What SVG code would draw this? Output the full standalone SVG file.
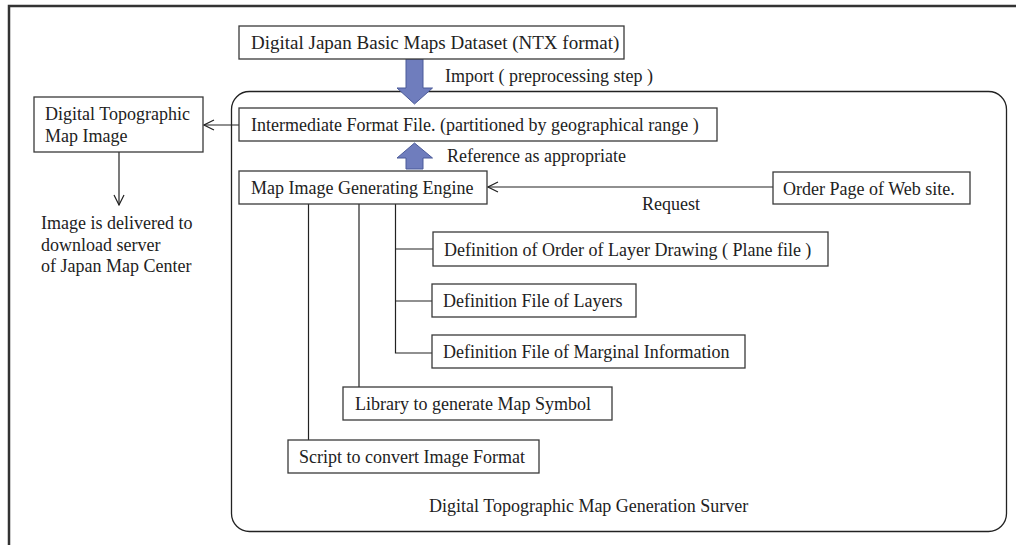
<svg xmlns="http://www.w3.org/2000/svg" width="1016" height="545" viewBox="0 0 1016 545">
<defs>
<style>
text{font-family:"Liberation Serif","Times New Roman",serif;font-size:18px;fill:#222}
.box{fill:#fff;stroke:#3a3a3a;stroke-width:1.3}
.ln{stroke:#222;stroke-width:1.2;fill:none}
.blk{fill:#6f7dbd;stroke:#4b5a99;stroke-width:1}
</style>
<marker id="open" viewBox="0 0 12 12" refX="11" refY="6" markerWidth="12" markerHeight="12" markerUnits="userSpaceOnUse" orient="auto">
<path d="M1,1 L11,6 L1,11" fill="none" stroke="#222" stroke-width="1.2"/>
</marker>
</defs>
<rect width="1016" height="545" fill="#fff"/>
<rect x="9" y="6" width="1030" height="570" fill="none" stroke="#333" stroke-width="2.5"/>
<g id="server">
<rect x="231.5" y="91.5" width="775" height="440" rx="18" ry="18" fill="none" stroke="#222" stroke-width="1.3"/>
<text x="429" y="512">Digital Topographic Map Generation Surver</text>
</g>
<g id="connectors">
<line class="ln" x1="239" y1="125" x2="204" y2="125" marker-end="url(#open)"/>
<line class="ln" x1="119" y1="152" x2="119" y2="205" marker-end="url(#open)" stroke="#444"/>
<line class="ln" x1="773" y1="187" x2="488" y2="187" marker-end="url(#open)"/>
<line class="ln" x1="308.5" y1="204" x2="308.5" y2="440"/>
<line class="ln" x1="359" y1="204" x2="359" y2="387" stroke-width="2"/>
<polyline class="ln" points="395.5,204 395.5,353 432,353" stroke="#555"/>
<line class="ln" x1="395.5" y1="249" x2="433" y2="249"/>
<line class="ln" x1="395.5" y1="301" x2="432" y2="301" stroke-width="2"/>
<polygon class="blk" points="406,59 423,59 423,88 432.5,88 414.5,104 397,88 406,88"/>
<polygon class="blk" points="414.5,143 432.5,158 423,158 423,169 406,169 406,158 397,158"/>
<text x="445" y="82">Import ( preprocessing step )</text>
<text x="447" y="162">Reference as appropriate</text>
<text x="642" y="210">Request</text>
</g>
<g id="dataset">
<rect class="box" x="239" y="26" width="385" height="33"/>
<text x="251" y="49" style="font-size:19px">Digital Japan Basic Maps Dataset (NTX format)</text>
</g>
<g id="intermediate">
<rect class="box" x="239" y="108" width="478" height="33"/>
<text x="251" y="131">Intermediate Format File. (partitioned by geographical range )</text>
</g>
<g id="topo-image">
<rect class="box" x="34" y="97" width="169" height="55"/>
<text x="45" y="120">Digital Topographic</text>
<text x="45" y="142">Map Image</text>
</g>
<g id="delivery">
<text x="41" y="229">Image is delivered to</text>
<text x="41" y="251">download server</text>
<text x="41" y="272">of Japan Map Center</text>
</g>
<g id="engine">
<rect class="box" x="239" y="171" width="248" height="33"/>
<text x="251" y="194">Map Image Generating Engine</text>
</g>
<g id="order-page">
<rect class="box" x="773" y="172" width="197" height="32"/>
<text x="783" y="194.5">Order Page of Web site.</text>
</g>
<g id="def-order">
<rect class="box" x="433" y="232" width="395" height="34"/>
<text x="444" y="255.5">Definition of Order of Layer Drawing ( Plane file )</text>
</g>
<g id="def-layers">
<rect class="box" x="432" y="284" width="204" height="33"/>
<text x="443" y="307">Definition File of Layers</text>
</g>
<g id="def-marginal">
<rect class="box" x="432" y="335" width="313" height="33"/>
<text x="443" y="358">Definition File of Marginal Information</text>
</g>
<g id="library">
<rect class="box" x="343" y="387" width="269" height="33"/>
<text x="355" y="410">Library to generate Map Symbol</text>
</g>
<g id="script">
<rect class="box" x="288" y="440" width="251" height="33"/>
<text x="299" y="463">Script to convert Image Format</text>
</g>
</svg>
